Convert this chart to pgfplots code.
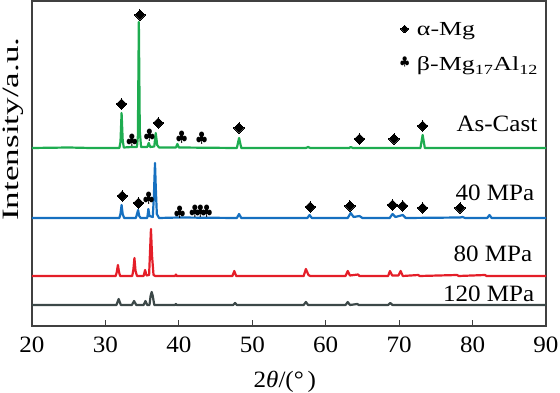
\documentclass[border=0pt]{standalone}
\usepackage{fontspec}
\setmainfont{Liberation Serif}[FakeStretch=1.07]
\newfontfamily\ylabfont{Liberation Serif}[FakeStretch=1.5]
\newfontfamily\legfont{Liberation Serif}[FakeStretch=1.3]
\usepackage{pgfplots}
\pgfplotsset{compat=1.18}
\definecolor{cgreen}{RGB}{30,172,80}
\definecolor{cblue}{RGB}{22,112,192}
\definecolor{cred}{RGB}{228,30,40}
\definecolor{cgray}{RGB}{60,72,72}
\definecolor{axisgray}{RGB}{64,64,64}
\begin{document}
\begin{tikzpicture}
\begin{axis}[
  scale only axis, width=514bp, height=325bp,
  xmin=20, xmax=90, ymin=0, ymax=325,
  xtick={20,30,...,90}, ytick=\empty,
  tick align=inside, xtick pos=lower,
  major tick length=6bp,
  axis line style={line width=1.5bp, color=axisgray},
  tick style={line width=1.2bp, color=axisgray},
  /pgf/number format/assume math mode=true,
  ticklabel style={font=\fontsize{23.5}{28}\selectfont},
  xticklabel style={anchor=center, yshift=-19bp},
  xlabel={2\textit{θ}/(°\,)},
  xlabel style={at={(rel axis cs:0.492,-0.172)}, anchor=center, font=\fontsize{23.5}{28}\selectfont},
  ylabel={\ylabfont Intensity/a.u.},
  ylabel style={at={(rel axis cs:-0.036,0.606)}, anchor=center, font=\fontsize{23.5}{28}\selectfont},
  every axis plot/.append style={line width=2.2bp, line join=round},
]
% As-Cast
\addplot[cgreen, mark=none] coordinates {
(20,178) (25,178.5) (28,178) (31.9,178) (32.05,184) (32.2,213) (32.35,186) (32.5,178.5)
(33.6,179) (34.3,179) (34.42,190) (34.55,304) (34.68,195) (34.85,179) (35.7,179) (35.9,183) (36.1,179)
(36.65,179.5) (36.85,193) (37.05,181) (37.3,178.5) (39.6,178.5) (39.8,182) (40.0,178.5)
(47.9,178) (48.2,188) (48.5,178) (57.3,178) (57.6,179) (57.9,178) (63.2,178) (63.4,179) (63.7,178)
(72.9,178) (73.2,191) (73.5,178) (82,178) (90,178)};
% 40 MPa
\addplot[cblue, mark=none] coordinates {
(20,108) (31.9,108) (32.05,112) (32.2,121) (32.35,112) (32.55,108) (34.15,108) (34.3,112) (34.45,116) (34.6,110) (34.8,108)
(35.7,108) (35.85,117) (36.0,110) (36.45,109) (36.6,130) (36.75,163) (36.85,140) (37.0,112) (37.3,108)
(40.0,108.5) (47.9,108) (48.2,112) (48.5,108) (57.5,108) (57.8,111) (58.1,108) (63.0,108) (63.4,113) (63.8,109)
(64.6,110) (65,108) (68.7,108) (69.1,112) (69.5,109) (70.5,111) (70.9,108) (78.3,108.5) (78.6,109) (79,108)
(82.0,108) (82.3,111) (82.6,108) (90,108)};
% 80 MPa
\addplot[cred, mark=none] coordinates {
(20,50) (31.4,50) (31.55,54) (31.7,61) (31.85,54) (32.0,50) (33.65,50) (33.8,56) (33.95,68) (34.1,55) (34.3,50)
(35.2,50) (35.4,56) (35.6,50.5) (35.95,51) (36.05,70) (36.2,97) (36.35,70) (36.55,51) (36.8,50)
(39.5,50) (39.6,51.5) (39.7,50) (47.3,50) (47.55,55) (47.8,50) (57.0,50) (57.3,57) (57.65,51) (57.9,50)
(62.7,50) (63.0,55) (63.3,50.5) (64.4,51.5) (64.6,50) (68.5,50) (68.75,55) (69.05,50.5) (69.9,50.5) (70.2,55) (70.5,50)
(72.6,51) (72.8,50) (77.9,51) (78.1,50) (81.7,51) (81.9,50) (90,50)};
% 120 MPa
\addplot[cgray, mark=none] coordinates {
(20,21) (31.5,21) (31.8,27) (32.1,21) (33.6,21) (33.9,25) (34.2,21) (35.2,21) (35.45,25) (35.7,21)
(36.0,21) (36.15,30) (36.3,34) (36.45,30) (36.65,21) (39.5,21) (39.6,22) (39.7,21) (47.4,21) (47.65,23) (47.9,21)
(57.0,21) (57.3,24) (57.6,21) (62.7,21) (63.0,24) (63.3,21) (64.3,22) (64.5,21) (68.5,21) (68.8,23) (69.1,21) (90,21)};
% alpha-Mg diamonds
\addplot[only marks, mark=square*, mark size=3.6bp, mark options={rotate=45, fill=black, draw=black, line width=0pt}] coordinates {
(34.7,311) (32.2,222) (37.2,203) (48.2,198) (64.6,187) (69.3,187) (73.2,200)
(32.3,130) (34.5,123) (57.9,119) (63.3,120) (69.1,121) (70.5,120) (73.2,118) (78.3,118)};
\addplot[only marks, mark=square*, mark size=2.6bp, mark options={rotate=45, fill=black, draw=black, line width=0pt}] coordinates {(70.75,297)};
% beta clubs
\addplot[only marks, mark=text, text mark={$\clubsuit$}, text mark as node=true,
  text mark style={font=\fontsize{15}{15}\selectfont, inner sep=0pt, black}] coordinates {
(33.6,186) (36.0,191) (40.4,189) (43.1,188)
(35.9,128) (40.1,114) (42.2,115) (42.95,115) (43.8,115)};
\addplot[only marks, mark=text, text mark={$\clubsuit$}, text mark as node=true,
  text mark style={font=\fontsize{12}{12}\selectfont, inner sep=0pt, black}] coordinates {(70.75,264)};
\coordinate (O) at (rel axis cs:0,0);
\node[anchor=base west, inner sep=0pt, font=\fontsize{20}{24}\legfont] at (axis cs:72.4,290) {α-Mg};
\node[anchor=base west, inner sep=0pt, font=\fontsize{20}{24}\legfont] at (axis cs:72.4,255) {β-Mg\textsubscript{17}Al\textsubscript{12}};
\node[anchor=base east, inner sep=0pt, font=\fontsize{23.5}{28}\selectfont] at (axis cs:88.84,194.3) {As-Cast};
\node[anchor=base east, inner sep=0pt, font=\fontsize{23.5}{28}\selectfont] at (axis cs:88.43,125) {40 MPa};
\node[anchor=base east, inner sep=0pt, font=\fontsize{23.5}{28}\selectfont] at (axis cs:88.16,65) {80 MPa};
\node[anchor=base east, inner sep=0pt, font=\fontsize{23.5}{28}\selectfont] at (axis cs:88.43,25) {120 MPa};
\end{axis}
\pgfresetboundingbox
\path ([shift={(-32bp,-67bp)}]O) rectangle ++(560bp,393bp);
\end{tikzpicture}
\end{document}
